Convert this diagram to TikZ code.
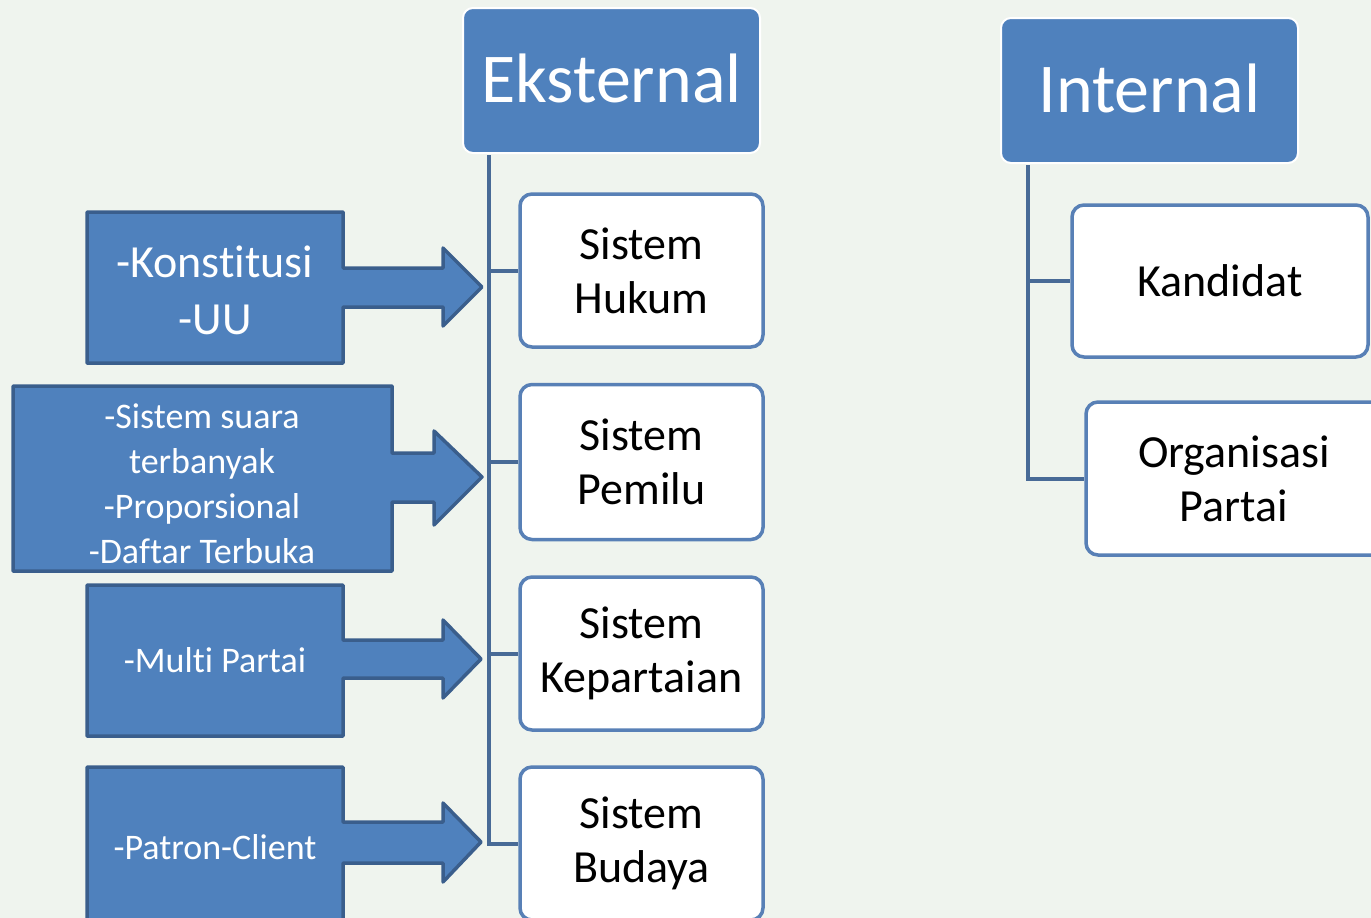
\documentclass[tikz,border=0pt]{standalone}
\usepackage{fontspec}
\setmainfont{Carlito}[Ligatures=NoCommon]
\definecolor{bg}{RGB}{239,244,238}
\definecolor{blu}{RGB}{79,129,189}
\definecolor{bluedge}{RGB}{58,94,140}
\definecolor{boxedge}{RGB}{88,128,182}
\definecolor{spine}{RGB}{72,106,150}
\begin{document}
\begin{tikzpicture}[x=1pt,y=-1pt,
  header/.style={rectangle,rounded corners=10pt,fill=blu,draw=white,line width=2pt,
    text=white,font=\fontsize{70}{80}\selectfont,minimum width=297pt,minimum height=145pt,inner sep=0pt},
  sysbox/.style={rectangle,rounded corners=12pt,fill=white,draw=boxedge,line width=3.5pt,
    align=center,font=\fontsize{46}{54}\selectfont,inner sep=0pt},
  conn/.style={draw=spine,line width=4pt},
  callout/.style={fill=blu,draw=bluedge,line width=3.5pt,line join=round},
  ctext/.style={text=white,align=center,inner sep=0pt}
]
\useasboundingbox (0,0) rectangle (1371,918);
\clip (0,0) rectangle (1371,918);
\fill[bg] (0,0) rectangle (1371,918);

% headers
\node[header] (ext) at (611.5,80.5) {\raisebox{4pt}{Eksternal}};
\node[header] (int) at (1149.5,90.5) {\raisebox{4pt}{Internal}};

% external boxes
\node[sysbox,minimum width=243pt,minimum height=153pt] (hukum) at (641.5,270.5) {Sistem\\Hukum};
\node[sysbox,minimum width=243pt,minimum height=155pt] (pemilu) at (641.5,462) {Sistem\\Pemilu};
\node[sysbox,minimum width=243pt,minimum height=153pt] (partai) at (641.5,653.5) {Sistem\\Kepartaian};
\node[sysbox,minimum width=243pt,minimum height=153pt] (budaya) at (641.5,843.5) {Sistem\\Budaya};

% internal boxes
\node[sysbox,minimum width=296pt,minimum height=152pt] (kand) at (1220,281) {Kandidat};
\node[sysbox,minimum width=304pt,minimum height=153pt,text width=296pt] (org) at (1238,478.5) {\hspace*{-8pt}Organisasi\\\hspace*{-8pt}Partai};

% spines
\coordinate (s1) at (489,155);
\draw[conn] (s1) |- (budaya.west);
\draw[conn] (hukum.west) -- (hukum.west -| s1);
\draw[conn] (pemilu.west) -- (pemilu.west -| s1);
\draw[conn] (partai.west) -- (partai.west -| s1);
\coordinate (s2) at (1028,165);
\draw[conn] (s2) |- (org.west);
\draw[conn] (kand.west) -- (kand.west -| s2);

% callouts
\path[callout] (87,212) -- (343,212) -- (343,268) -- (443,268) -- (443,248) -- (482,287)
  -- (443,326) -- (443,307) -- (343,307) -- (343,363) -- (87,363) -- cycle;
\node[ctext,font=\fontsize{46}{57}\selectfont] (c1) at (215,290) {-Konstitusi\\-UU};

\path[callout] (13,386) -- (392,386) -- (392,453) -- (434,453) -- (434,431) -- (482,477)
  -- (434,525) -- (434,502) -- (392,502) -- (392,571) -- (13,571) -- cycle;
\node[ctext,font=\fontsize{36}{45}\selectfont] (c2) at (202,484) {-Sistem suara\\terbanyak\\-Proporsional\\-Daftar Terbuka};

\path[callout] (87,585) -- (343,585) -- (343,640) -- (443,640) -- (443,620) -- (481,659)
  -- (443,698) -- (443,678) -- (343,678) -- (343,736) -- (87,736) -- cycle;
\node[ctext,font=\fontsize{36}{45}\selectfont] (c3) at (215,660) {-Multi Partai};

\path[callout] (87,767) -- (343,767) -- (343,822) -- (443,822) -- (443,803) -- (481,842)
  -- (443,882) -- (443,863) -- (343,863) -- (343,930) -- (87,930) -- cycle;
\node[ctext,font=\fontsize{36}{45}\selectfont] (c4) at (215,847) {-Patron-Client};
\end{tikzpicture}
\end{document}
